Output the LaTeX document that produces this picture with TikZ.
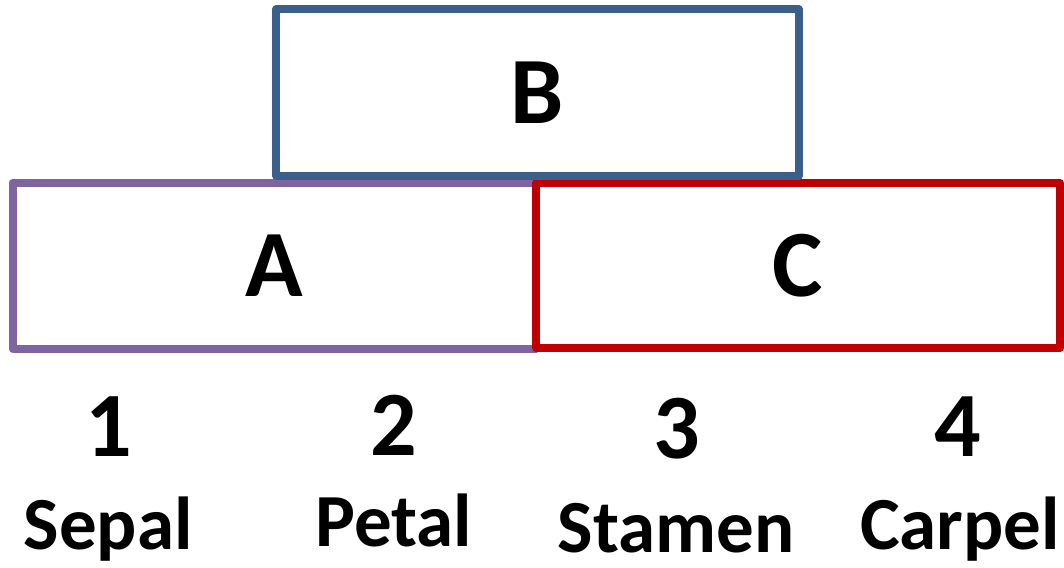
\documentclass[tikz,border=0pt]{standalone}
\usepackage{fontspec}
\setmainfont{Carlito}
\definecolor{bblue}{HTML}{3A5F8B}
\definecolor{apurple}{HTML}{8064A2}
\definecolor{cred}{HTML}{C00000}
\begin{document}
\begin{tikzpicture}[x=1pt,y=-1pt,
  box/.style={draw, line width=8pt, line join=round, inner sep=0pt, outer sep=0pt,
    font=\fontsize{95}{95}\selectfont\bfseries},
  digit/.style={anchor=base, inner sep=0pt, font=\fontsize{92}{92}\selectfont\bfseries},
  organ/.style={anchor=base, inner sep=0pt, font=\fontsize{75}{75}\selectfont\bfseries}]
\useasboundingbox (0,0) rectangle (1064,567);
\node[box, apurple, text=black, minimum width=523.5pt, minimum height=166.5pt] (A) at (274.25,265.75) {A};
\node[box, cred, text=black, minimum width=524pt, minimum height=165pt] (C) at (798,265.5) {C};
\node[box, bblue, text=black, minimum width=523pt, minimum height=166pt] (B) at (537.5,92.5) {B};
\node[digit] (n1) at (109,456) {1};
\node[digit] (n2) at (394,455) {2};
\node[digit] (n3) at (677,458) {3};
\node[digit] (n4) at (958,456) {4};
\node[organ] (s1) at (108,549) {Sepal};
\node[organ] (s2) at (394,546) {Petal};
\node[organ] (s3) at (676,552) {Stamen};
\node[organ] (s4) at (960,549) {Carpel};
\end{tikzpicture}
\end{document}
